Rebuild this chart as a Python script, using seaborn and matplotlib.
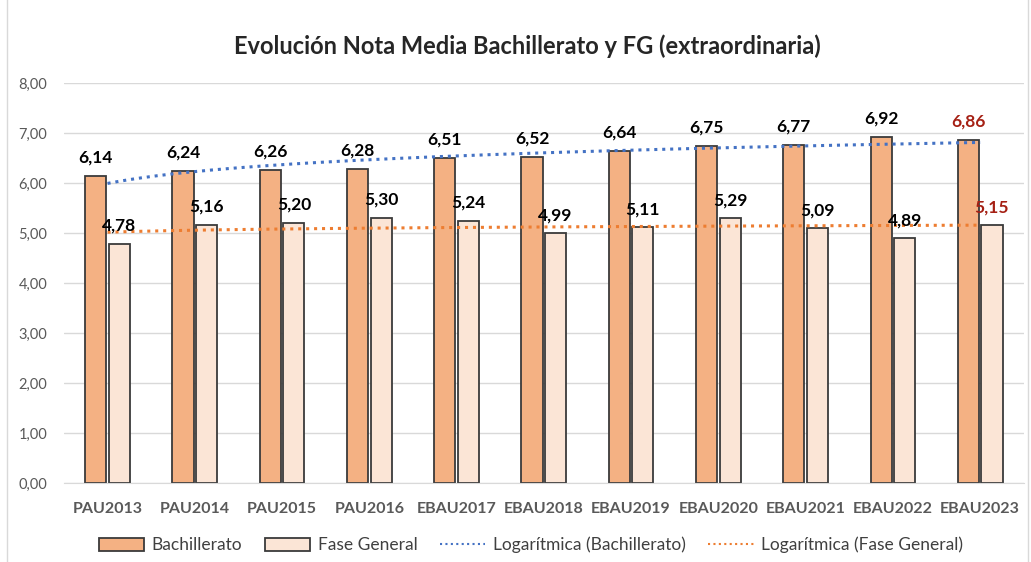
import numpy as np
import pandas as pd
import matplotlib.pyplot as plt
import seaborn as sns
from matplotlib.patches import Patch, Rectangle
from matplotlib.lines import Line2D

# Data
convocatorias = ["PAU2013", "PAU2014", "PAU2015", "PAU2016", "EBAU2017", "EBAU2018",
                 "EBAU2019", "EBAU2020", "EBAU2021", "EBAU2022", "EBAU2023"]
bachillerato = [6.14, 6.24, 6.26, 6.28, 6.51, 6.52, 6.64, 6.75, 6.77, 6.92, 6.86]
fase_general = [4.78, 5.16, 5.20, 5.30, 5.24, 4.99, 5.11, 5.29, 5.09, 4.89, 5.15]

df = pd.DataFrame({
    "Convocatoria": convocatorias * 2,
    "Nota": bachillerato + fase_general,
    "Serie": ["Bachillerato"] * len(convocatorias) + ["Fase General"] * len(convocatorias),
})

sns.set_style("white")
plt.rcParams['font.family'] = ['Lato', 'DejaVu Sans']

c_bach = "#F4B183"
c_fg = "#FBE5D6"
c_edge = "#3A3A3A"
c_blue = "#4472C4"
c_orange = "#ED7D31"
c_red = "#A52014"

fig = plt.figure(figsize=(10.31, 5.62), dpi=100)
ax = fig.add_axes([0.062, 0.1406, 0.931, 0.7117])

sns.barplot(data=df, x="Convocatoria", y="Nota", hue="Serie",
            palette={"Bachillerato": c_bach, "Fase General": c_fg}, saturation=1,
            width=0.54, gap=0.1, edgecolor=c_edge, linewidth=1.3,
            errorbar=None, legend=False, ax=ax, zorder=3)

# logarithmic trend lines (Excel style)
xs = np.arange(1, len(convocatorias) + 1)
xfine = np.linspace(1, len(convocatorias), 200)
for serie, col in [(bachillerato, c_blue), (fase_general, c_orange)]:
    b, a = np.polyfit(np.log(xs), serie, 1)
    ax.plot(xfine - 1, a + b * np.log(xfine), linestyle=(0, (1, 1.6)),
            color=col, linewidth=2.2, zorder=4)

# value labels
n = len(convocatorias)
for i, (vb, vf) in enumerate(zip(bachillerato, fase_general)):
    col = c_red if i == n - 1 else "black"
    ax.text(i - 0.135, vb + 0.2, f"{vb:.2f}".replace(".", ","), ha="center", va="bottom",
            fontsize=12.5, fontweight="bold", color=col, zorder=5)
    ax.text(i + 0.135, vf + 0.2, f"{vf:.2f}".replace(".", ","), ha="center", va="bottom",
            fontsize=12.5, fontweight="bold", color=col, zorder=5)

ax.set_ylim(0, 8)
ax.set_xlim(-0.5, n - 0.5)
ax.set_yticks(np.arange(0, 9, 1))
ax.set_yticklabels([f"{v:.2f}".replace(".", ",") for v in range(9)], color="#595959", fontsize=10.5)
ax.set_xticks(range(n))
ax.set_xticklabels(convocatorias, color="#595959", fontsize=11.5, fontweight="bold")
ax.tick_params(axis="x", length=0, pad=14)
ax.tick_params(axis="y", length=0, pad=12)
ax.set_xlabel("")
ax.set_ylabel("")
ax.grid(axis="y", color="#D9D9D9", linewidth=1, zorder=0)
for s in ["top", "right", "left"]:
    ax.spines[s].set_visible(False)
ax.spines["bottom"].set_color("#D9D9D9")
ax.spines["bottom"].set_zorder(3)

fig.text(0.512, 0.918, "Evolución Nota Media Bachillerato y FG (extraordinaria)",
         ha="center", va="center", fontsize=17, fontweight="bold")

handles = [
    Patch(facecolor=c_bach, edgecolor=c_edge, linewidth=1.3, label="Bachillerato"),
    Patch(facecolor=c_fg, edgecolor=c_edge, linewidth=1.3, label="Fase General"),
    Line2D([], [], color=c_blue, linestyle=(0, (1, 1.6)), linewidth=1.5, label="Logarítmica (Bachillerato)"),
    Line2D([], [], color=c_orange, linestyle=(0, (1, 1.6)), linewidth=1.5, label="Logarítmica (Fase General)"),
]
leg = fig.legend(handles=handles, loc="center", bbox_to_anchor=(0.515, 0.03), ncol=4,
                 frameon=False, fontsize=12.5, handlelength=2.6, handleheight=0.75,
                 columnspacing=1.3, handletextpad=0.45)
for t in leg.get_texts():
    t.set_color("#404040")

fig.patches.append(Rectangle((0.007, -0.01), 0.99, 1.03, transform=fig.transFigure,
                             fill=False, edgecolor="#D9D9D9", linewidth=1))

fig.savefig("out.png", dpi=100)
